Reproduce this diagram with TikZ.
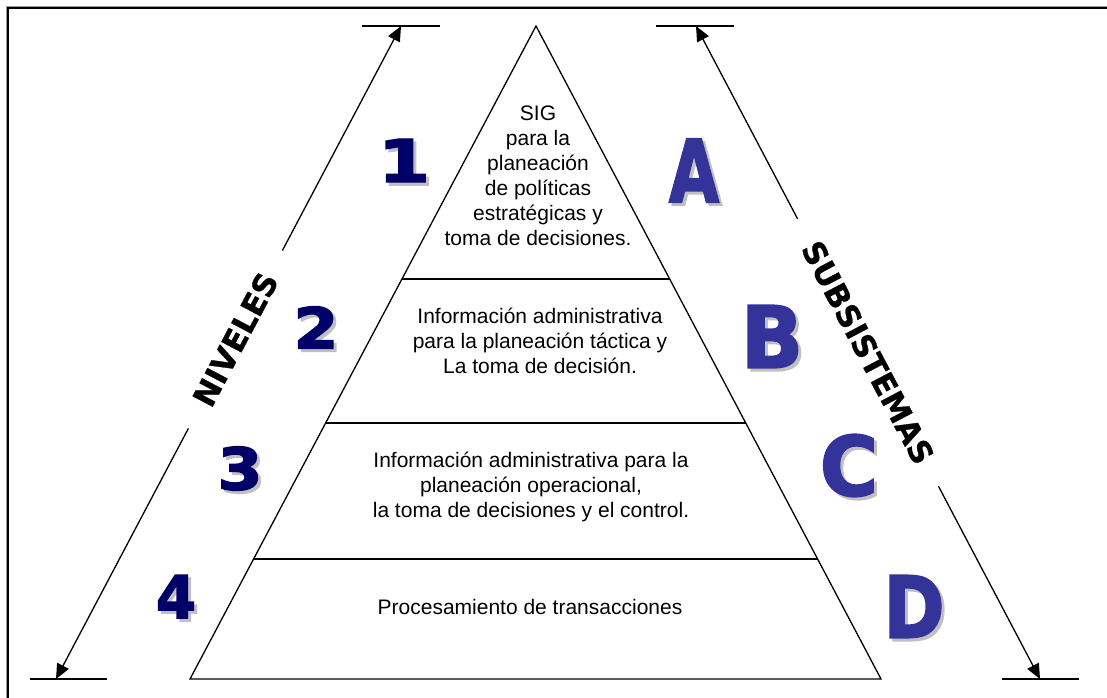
\documentclass[tikz,border=0pt]{standalone}
\usepackage{fontspec}
\setmainfont{Liberation Sans}
\newfontfamily\heavyfont{DejaVu Sans Bold}[FakeBold=0.8]
\newfontfamily\blackfont{DejaVu Sans Bold}[FakeBold=2.5]
\usetikzlibrary{arrows.meta,calc}
\definecolor{numblue}{HTML}{000066}
\definecolor{letblue}{HTML}{333399}
\definecolor{shadowgray}{HTML}{C0C0C0}
% glyph with a grey shadow below right
\newcommand\shadowglyph[4]{%
  \rlap{\kern3pt\raisebox{-3pt}{\textcolor{shadowgray}{\resizebox{#2pt}{#3pt}{#1}}}}%
  \textcolor{#4}{\resizebox{#2pt}{#3pt}{#1}}}

\begin{document}
\begin{tikzpicture}[x=1pt,y=-1pt,line width=1.3pt,
    body/.style={align=center,font=\fontsize{21}{25}\selectfont},
    sidelabel/.style={font=\heavyfont\fontsize{31}{31}\selectfont,inner xsep=27pt,inner ysep=0pt},
    glyph/.style={inner sep=0pt,font=\blackfont},
    tip/.style={-{Triangle[length=15pt,width=13pt]}}]

    \useasboundingbox (0,0) rectangle (1107,697);

    % frame
    \draw[line width=3pt,shadowgray!80!black] (7,720) |- (1130,7);
    \draw[line width=1.6pt] (8,720) |- (1130,8);

    % pyramid
    \coordinate (apex) at (536,26);
    \coordinate (baseL) at (190,679);
    \coordinate (baseR) at (881,679);
    \draw (baseL) -- (apex) -- (baseR) -- cycle;
    \draw ($(apex)!0.3874!(baseL)$) -- ($(apex)!0.3874!(baseR)$);
    \draw ($(apex)!0.6080!(baseL)$) -- ($(apex)!0.6080!(baseR)$);
    \draw ($(apex)!0.8162!(baseL)$) -- ($(apex)!0.8162!(baseR)$);

    \node[body] (t1) at (538,176) {SIG\\para la\\planeación\\de políticas\\estratégicas y\\toma de decisiones.};
    \node[body] (t2) at (540,341) {Información administrativa\\para la planeación táctica y\\La toma de decisión.};
    \node[body] (t3) at (531,487) {Información administrativa para la\\planeación operacional,\\la toma de decisiones y el control.};
    \node[body] (t4) at (530,607) {Procesamiento de transacciones};

    % big numbers and letters
    \foreach \g/\x/\y/\w/\h/\c in {1/404/162/52/43/numblue, 2/316/329/45/42/numblue,
        3/240/470/45/43/numblue, 4/176/598/40/43/numblue,
        A/694/172/50/63/letblue, B/772/338/62/62/letblue,
        C/849/467/58/61/letblue, D/914/608/61/62/letblue}{
        \node[glyph] (g\g) at (\x,\y) {\shadowglyph{\g}{\w}{\h}{\c}};
    }

    % niveles
    \coordinate (ltop) at (401,26);
    \coordinate (lbot) at (56,679);
    \draw (362,26) -- (440,26);
    \draw (30,679) -- (107,679);
    \node[sidelabel,rotate=62.15] (niveles) at ($(lbot)!0.52!(ltop)$) {NIVELES};
    \draw[tip] (niveles) -- (ltop);
    \draw[tip] (niveles) -- (lbot);

    % subsistemas
    \coordinate (rtop) at (696,26);
    \coordinate (rbot) at (1040,679);
    \draw (656,26) -- (734,26);
    \draw (1002,679) -- (1079,679);
    \node[sidelabel,rotate=-62.2] (subsis) at ($(rtop)!0.5!(rbot)$) {SUBSISTEMAS};
    \draw[tip] (subsis) -- (rtop);
    \draw[tip] (subsis) -- (rbot);

\end{tikzpicture}
\end{document}
